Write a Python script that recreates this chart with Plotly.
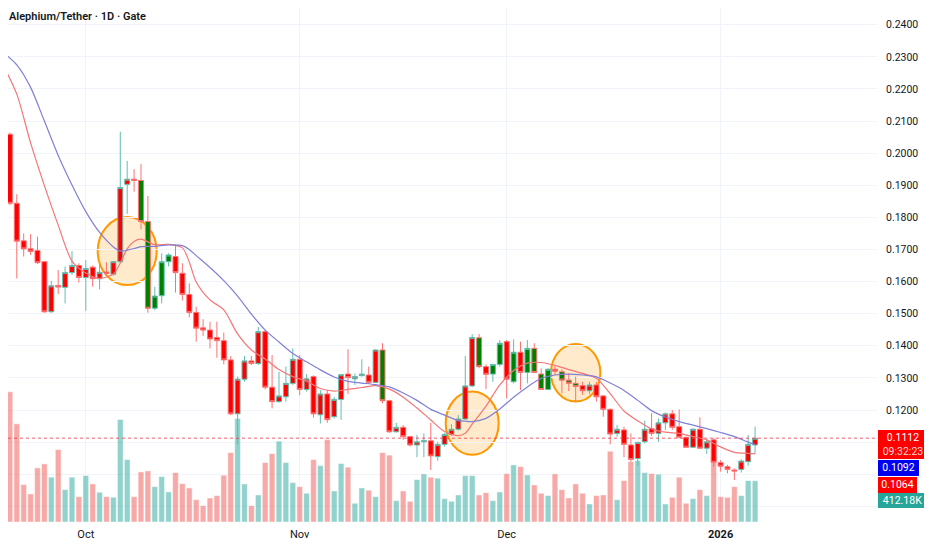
"""Alephium/Tether daily candles with volume, two moving averages and marked zones."""

from __future__ import annotations

import pandas as pd
import plotly.graph_objects as go

FIRST_DAY = "2025-09-19"

opens = [
    0.2137, 0.2059, 0.1844, 0.1727, 0.1702, 0.1697, 0.1662, 0.1506, 0.1588, 0.1582,
    0.1628, 0.1650, 0.1613, 0.1645, 0.1609, 0.1630, 0.1623, 0.1662, 0.1903, 0.1919,
    0.1915, 0.1787, 0.1517, 0.1556, 0.1662, 0.1678, 0.1626, 0.1560, 0.1504, 0.1456,
    0.1449, 0.1426, 0.1416, 0.1356, 0.1188, 0.1296, 0.1353, 0.1345, 0.1444, 0.1271,
    0.1226, 0.1241, 0.1283, 0.1358, 0.1264, 0.1304, 0.1185, 0.1250, 0.1179, 0.1233,
    0.1312, 0.1297, 0.1307, 0.1309, 0.1286, 0.1387, 0.1229, 0.1132, 0.1146, 0.1117,
    0.1091, 0.1101, 0.1104, 0.1055, 0.1093, 0.1124, 0.1140, 0.1172, 0.1275, 0.1425,
    0.1335, 0.1312, 0.1342, 0.1413, 0.1288, 0.1380, 0.1317, 0.1392, 0.1312, 0.1264,
    0.1327, 0.1319, 0.1293, 0.1283, 0.1276, 0.1260, 0.1278, 0.1244, 0.1202, 0.1127,
    0.1138, 0.1091, 0.1049, 0.1101, 0.1142, 0.1127, 0.1160, 0.1188, 0.1148, 0.1115,
    0.1084, 0.1140, 0.1081, 0.1107, 0.1036, 0.1023, 0.1013, 0.1015, 0.1039, 0.1091,
]
highs = [
    0.2168, 0.2064, 0.1872, 0.1750, 0.1748, 0.1740, 0.1662, 0.1602, 0.1636, 0.1647,
    0.1695, 0.1657, 0.1667, 0.1650, 0.1655, 0.1660, 0.1664, 0.2067, 0.1976, 0.1950,
    0.1966, 0.1867, 0.1584, 0.1688, 0.1688, 0.1716, 0.1657, 0.1595, 0.1522, 0.1483,
    0.1475, 0.1475, 0.1441, 0.1368, 0.1304, 0.1368, 0.1368, 0.1459, 0.1450, 0.1371,
    0.1319, 0.1335, 0.1392, 0.1371, 0.1312, 0.1308, 0.1262, 0.1262, 0.1241, 0.1312,
    0.1389, 0.1314, 0.1358, 0.1335, 0.1389, 0.1408, 0.1232, 0.1160, 0.1153, 0.1120,
    0.1122, 0.1127, 0.1160, 0.1101, 0.1129, 0.1156, 0.1184, 0.1368, 0.1436, 0.1437,
    0.1342, 0.1342, 0.1418, 0.1418, 0.1420, 0.1413, 0.1418, 0.1408, 0.1330, 0.1330,
    0.1340, 0.1327, 0.1314, 0.1304, 0.1288, 0.1288, 0.1288, 0.1247, 0.1205, 0.1153,
    0.1148, 0.1127, 0.1101, 0.1167, 0.1190, 0.1174, 0.1192, 0.1200, 0.1202, 0.1117,
    0.1143, 0.1177, 0.1107, 0.1112, 0.1044, 0.1029, 0.1018, 0.1046, 0.1122, 0.1148,
]
lows = [
    0.2041, 0.1838, 0.1610, 0.1678, 0.1683, 0.1655, 0.1503, 0.1503, 0.1561, 0.1532,
    0.1621, 0.1597, 0.1509, 0.1584, 0.1576, 0.1621, 0.1618, 0.1659, 0.1811, 0.1880,
    0.1763, 0.1503, 0.1511, 0.1532, 0.1647, 0.1566, 0.1541, 0.1489, 0.1413, 0.1431,
    0.1392, 0.1363, 0.1342, 0.1184, 0.1091, 0.1288, 0.1340, 0.1340, 0.1264, 0.1205,
    0.1223, 0.1226, 0.1278, 0.1246, 0.1257, 0.1177, 0.1158, 0.1160, 0.1174, 0.1169,
    0.1250, 0.1278, 0.1304, 0.1281, 0.1284, 0.1221, 0.1129, 0.1130, 0.1107, 0.1086,
    0.1053, 0.1053, 0.1013, 0.1042, 0.1086, 0.1119, 0.1136, 0.1167, 0.1271, 0.1330,
    0.1265, 0.1288, 0.1335, 0.1236, 0.1283, 0.1262, 0.1283, 0.1316, 0.1262, 0.1262,
    0.1309, 0.1252, 0.1259, 0.1226, 0.1247, 0.1249, 0.1226, 0.1179, 0.1093, 0.1117,
    0.1053, 0.1039, 0.1026, 0.1096, 0.1119, 0.1101, 0.1138, 0.1138, 0.1112, 0.1082,
    0.1081, 0.1079, 0.1063, 0.1023, 0.1008, 0.1003, 0.0982, 0.1005, 0.1026, 0.1065,
]
closes = [
    0.2057, 0.1844, 0.1726, 0.1702, 0.1694, 0.1659, 0.1506, 0.1587, 0.1583, 0.1628,
    0.1650, 0.1613, 0.1641, 0.1609, 0.1629, 0.1626, 0.1662, 0.1893, 0.1919, 0.1915,
    0.1787, 0.1517, 0.1555, 0.1662, 0.1683, 0.1628, 0.1560, 0.1504, 0.1455, 0.1449,
    0.1421, 0.1416, 0.1356, 0.1188, 0.1296, 0.1353, 0.1345, 0.1444, 0.1271, 0.1226,
    0.1244, 0.1283, 0.1358, 0.1264, 0.1297, 0.1188, 0.1250, 0.1170, 0.1233, 0.1310,
    0.1301, 0.1304, 0.1312, 0.1286, 0.1387, 0.1229, 0.1132, 0.1146, 0.1117, 0.1091,
    0.1101, 0.1104, 0.1057, 0.1093, 0.1124, 0.1140, 0.1172, 0.1275, 0.1426, 0.1335,
    0.1311, 0.1342, 0.1408, 0.1296, 0.1380, 0.1317, 0.1392, 0.1317, 0.1264, 0.1327,
    0.1321, 0.1293, 0.1283, 0.1273, 0.1260, 0.1278, 0.1241, 0.1202, 0.1125, 0.1140,
    0.1093, 0.1046, 0.1099, 0.1140, 0.1127, 0.1160, 0.1188, 0.1146, 0.1115, 0.1084,
    0.1140, 0.1081, 0.1101, 0.1037, 0.1025, 0.1015, 0.1010, 0.1041, 0.1093, 0.1112,
]
volumes_k = [
    357, 1300, 980, 373, 280, 540, 580, 447, 723, 323,
    447, 253, 463, 380, 297, 253, 247, 1023, 623, 253,
    500, 510, 353, 453, 300, 493, 383, 340, 223, 163,
    240, 263, 467, 693, 1033, 380, 163, 270, 593, 683,
    807, 593, 393, 353, 287, 623, 563, 823, 310, 583,
    547, 187, 340, 317, 253, 693, 667, 213, 310, 207,
    423, 480, 447, 437, 233, 207, 270, 463, 463, 270,
    293, 213, 300, 483, 570, 553, 470, 370, 287, 263,
    480, 323, 240, 380, 287, 180, 263, 270, 707, 223,
    413, 603, 613, 493, 483, 477, 180, 247, 447, 187,
    233, 323, 263, 647, 253, 247, 353, 263, 413, 412.18,
]
# candles whose body is painted green instead of red
green_body_days = [
    "2025-10-09", "2025-10-10", "2025-10-11", "2025-10-12", "2025-10-13", "2025-11-13",
    "2025-11-27", "2025-11-29", "2025-11-30", "2025-12-02", "2025-12-04", "2025-12-05",
    "2025-12-06", "2025-12-07", "2025-12-09", "2025-12-10", "2025-12-11",
]

# moving averages, read at these candle numbers (0 = first candle)
ma_days = [
    0, 2, 4, 6, 8, 10, 12, 14, 16, 17, 18, 19, 20, 22, 24, 26, 27, 28,
    30, 32, 34, 36, 38, 40, 42, 44, 46, 48, 50, 52, 54, 56, 58, 60, 62, 64, 66,
    67, 68, 70, 72, 74, 76, 78, 80, 82, 84, 86, 88, 90, 92, 94, 96, 98, 100,
    102, 104, 106, 108, 109,
]
ma_fast = [
    0.2275, 0.2184, 0.2032, 0.1899, 0.1776, 0.1664, 0.1627, 0.1610, 0.1624,
    0.1658, 0.1702, 0.1725, 0.1732, 0.1715, 0.1716, 0.1705, 0.1661, 0.1599,
    0.1543, 0.1512, 0.1437, 0.1387, 0.1359, 0.1326, 0.1304, 0.1290, 0.1267, 0.1259,
    0.1264, 0.1270, 0.1276, 0.1265, 0.1240, 0.1206, 0.1169, 0.1133, 0.1120,
    0.1128, 0.1156, 0.1212, 0.1278, 0.1323, 0.1346, 0.1348, 0.1339, 0.1326, 0.1314,
    0.1299, 0.1251, 0.1197, 0.1166, 0.1141, 0.1131, 0.1127, 0.1117, 0.1107, 0.1085,
    0.1068, 0.1065, 0.1064,
]
ma_slow = [
    0.2314, 0.2275, 0.2205, 0.2100, 0.1993, 0.1901, 0.1818, 0.1753, 0.1708,
    0.1695, 0.1698, 0.1703, 0.1709, 0.1710, 0.1714, 0.1712, 0.1700, 0.1681,
    0.1644, 0.1603, 0.1555, 0.1499, 0.1449, 0.1412, 0.1376, 0.1350, 0.1325, 0.1303,
    0.1289, 0.1284, 0.1279, 0.1272, 0.1253, 0.1230, 0.1202, 0.1184, 0.1167,
    0.1165, 0.1164, 0.1174, 0.1203, 0.1240, 0.1272, 0.1298, 0.1309, 0.1312, 0.1309,
    0.1303, 0.1284, 0.1261, 0.1230, 0.1198, 0.1178, 0.1164, 0.1153, 0.1142, 0.1130,
    0.1117, 0.1100, 0.1092,
]

highlight_days = ["2025-10-07", "2025-11-26", "2025-12-11"]
highlight_prices = [0.1695, 0.1159, 0.1316]

price_ticks = [0.09, 0.10, 0.11, 0.12, 0.13, 0.14, 0.15, 0.16, 0.17, 0.18, 0.19, 0.20, 0.21, 0.22, 0.23, 0.24]
month_ticks = ["2025-10-01", "2025-11-01", "2025-12-01", "2026-01-01"]
month_labels = ["Oct", "Nov", "Dec", "<b>2026</b>"]
countdown = "09:32:23"

FONT = "Roboto"
TEXT = "#131722"
GRID = "#f0f3fa"
UP_LINE = "#5fbfb1"
DOWN_LINE = "#ff7070"
UP_VOL = "rgba(38,166,154,0.5)"
DOWN_VOL = "rgba(239,83,80,0.5)"


def _candles(days, rows: list[int], fill: str) -> go.Candlestick:
    return go.Candlestick(
        x=[days[i] for i in rows],
        open=[opens[i] for i in rows],
        high=[highs[i] for i in rows],
        low=[lows[i] for i in rows],
        close=[closes[i] for i in rows],
        increasing={"fillcolor": fill, "line": {"color": UP_LINE, "width": 1}},
        decreasing={"fillcolor": fill, "line": {"color": DOWN_LINE, "width": 1}},
        whiskerwidth=0,
        yaxis="y2",
        hoverinfo="skip",
    )


def _ma_line(days, values: list[float], color: str) -> go.Scatter:
    return go.Scatter(
        x=[days[i] for i in ma_days],
        y=values,
        mode="lines",
        line={"color": color, "width": 1.2, "shape": "spline", "smoothing": 0.8},
        yaxis="y2",
        hoverinfo="skip",
    )


def _price_tag(text: str, bg: str, shift: float, width: int, height: float) -> dict:
    return {
        "text": text,
        "xref": "paper",
        "x": 1,
        "xanchor": "left",
        "xshift": 1,
        "yref": "y2",
        "y": closes[-1],
        "yanchor": "top",
        "yshift": shift,
        "width": width,
        "height": height,
        "bgcolor": bg,
        "borderpad": 0,
        "borderwidth": 0,
        "showarrow": False,
        "align": "center",
        "valign": "middle",
        "font": {"family": FONT, "size": 10.5, "color": "white"},
    }


def main() -> None:
    days = pd.date_range(FIRST_DAY, periods=len(closes), freq="D")
    green = set(pd.to_datetime(green_body_days))
    red_rows = [i for i, d in enumerate(days) if d not in green]
    green_rows = [i for i, d in enumerate(days) if d in green]

    vol_colors = [UP_VOL if c > o else DOWN_VOL for o, c in zip(opens, closes)]
    traces = [
        go.Bar(
            x=days,
            y=volumes_k,
            marker={"color": vol_colors, "line": {"color": "rgba(255,255,255,0.6)", "width": 0.8}},
            yaxis="y",
            hoverinfo="skip",
        ),
        _candles(days, red_rows, "#ff0000"),
        _candles(days, green_rows, "#008000"),
        _ma_line(days, ma_fast, "#f47676"),
        _ma_line(days, ma_slow, "#8080d6"),
    ]

    shapes = [
        {
            "type": "line",
            "xref": "paper",
            "x0": 0,
            "x1": 1,
            "yref": "y2",
            "y0": closes[-1],
            "y1": closes[-1],
            "line": {"color": "rgba(242,54,69,0.55)", "width": 1.5, "dash": "dot"},
            "layer": "above",
        }
    ]
    radii = [(29.5, 34), (26.5, 31.7), (24.7, 28.8)]
    for day, price, (rx, ry) in zip(highlight_days, highlight_prices, radii):
        shapes.append(
            {
                "type": "circle",
                "xref": "x",
                "yref": "y2",
                "xsizemode": "pixel",
                "ysizemode": "pixel",
                "xanchor": day,
                "yanchor": price,
                "x0": -rx,
                "x1": rx,
                "y0": -ry,
                "y1": ry,
                "fillcolor": "rgba(255,152,0,0.2)",
                "line": {"color": "#ff9800", "width": 2},
                "layer": "below",
            }
        )

    annotations = [
        {
            "text": "Alephium/Tether · 1D · Gate",
            "xref": "paper",
            "x": 0,
            "xanchor": "left",
            "xshift": -1,
            "yref": "paper",
            "y": 1,
            "yanchor": "top",
            "yshift": 0,
            "showarrow": False,
            "font": {"family": FONT, "size": 11, "color": TEXT, "weight": 600},
        },
        _price_tag(f"{closes[-1]:.4f}<br><span style='color:#ffd6d6'>{countdown}</span>", "#ff0000", 8, 50, 29.3),
        _price_tag(f"{ma_slow[-1]:.4f}", "#0000ee", -21.8, 41, 15.7),
        _price_tag(f"{ma_fast[-1]:.4f}", "#ff0000", -38.5, 39, 15.6),
        _price_tag(f"{volumes_k[-1]:.2f}K", "#26a69a", -55.1, 49, 15),
    ]

    # the tags cover the labels of the lowest three price levels
    price_labels = [f"{v:.4f}" if v > 0.115 else "" for v in price_ticks]

    start = pd.Timestamp(FIRST_DAY)
    fig = go.Figure(data=traces)
    fig.update_layout(
        width=924,
        height=542,
        margin={"l": 0, "r": 55, "t": 0, "b": 28},
        paper_bgcolor="white",
        plot_bgcolor="white",
        showlegend=False,
        bargap=0.17,
        boxgap=0.25,
        boxgroupgap=0.04,
        font={"family": FONT, "color": TEXT},
        xaxis={
            "type": "date",
            "range": [start + pd.Timedelta(days=0.725), start + pd.Timedelta(days=126.67)],
            "tickvals": month_ticks,
            "ticktext": month_labels,
            "showgrid": True,
            "gridcolor": GRID,
            "zeroline": False,
            "showline": False,
            "ticks": "",
            "ticklabelstandoff": 4,
            "tickfont": {"family": FONT, "size": 11, "color": TEXT},
            "rangeslider": {"visible": False},
        },
        yaxis={"range": [0, 5130], "visible": False, "showgrid": False},
        yaxis2={
            "overlaying": "y",
            "side": "right",
            "range": [0.08511, 0.24523],
            "tickvals": price_ticks,
            "ticktext": price_labels,
            "showgrid": True,
            "gridcolor": GRID,
            "zeroline": False,
            "showline": False,
            "ticks": "",
            "ticklabelstandoff": 8,
            "tickfont": {"family": FONT, "size": 10.5, "color": TEXT},
        },
        shapes=shapes,
        annotations=annotations,
    )
    fig.write_html("out.html")


if __name__ == "__main__":
    main()
